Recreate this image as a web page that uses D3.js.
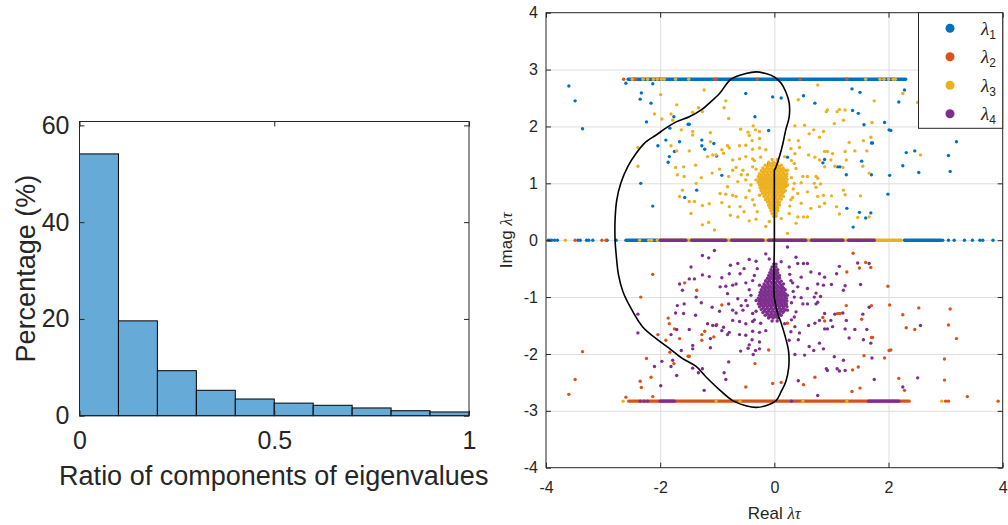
<!DOCTYPE html>
<html>
<head>
<meta charset="utf-8">
<script src="https://cdn.jsdelivr.net/npm/d3@7"></script>
<style>
  body { margin: 0; background: #fff; }
  svg { display: block; }
  text { font-family: "Liberation Sans", Arial, sans-serif; fill: #262626; }
</style>
</head>
<body>
<svg id="chart" width="1008" height="525"></svg>
<script>
// Histogram: ratio of components of eigenvalues
const binEdges = [0, 0.1, 0.2, 0.3, 0.4, 0.5, 0.6, 0.7, 0.8, 0.9, 1.0];
const binPercent = [54.1, 19.6, 9.3, 5.25, 3.45, 2.6, 2.15, 1.6, 1.03, 0.77];
const histXTicks = [0, 0.5, 1];
const histYTicks = [0, 20, 40, 60];

// Eigenvalue scatter (real, imag) for each lambda
const seriesNames = ['1', '2', '3', '4'];
const seriesColors = ['#0072bd', '#d95319', '#edb120', '#7e2f8e'];
const eigXTicks = [-4, -2, 0, 2, 4];
const eigYTicks = [-4, -3, -2, -1, 0, 1, 2, 3, 4];

const lambda1Pts = [
  [-3.60,2.71],[-3.49,2.45],[-3.36,1.96],[-2.60,2.76],[-2.33,2.59],[-2.35,2.48],[-2.13,2.75],[-2.16,2.41],
  [-2.24,2.08],[-1.76,2.17],[-1.51,2.04],[-1.49,2.04],[-1.83,1.97],[-1.90,1.76],[-1.66,1.73],[-1.75,1.56],
  [-1.84,1.47],[-1.86,1.37],[-2.04,1.66],[-2.34,1.00],[-2.13,0.60],[-1.27,1.76],[-1.27,1.66],[-1.22,1.60],
  [-1.06,1.70],[-1.01,1.48],[-0.92,1.14],[-1.36,0.88],[-1.57,0.75],[-0.50,2.58],[-0.34,2.17],[-0.10,1.93],
  [-0.03,2.52],[-0.10,1.35],[0.12,2.50],[0.51,2.54],[0.71,2.41],[1.36,2.66],[1.50,2.60],[1.37,2.28],
  [1.47,2.23],[2.18,2.43],[2.28,2.64],[1.93,2.07],[2.01,1.94],[2.04,1.93],[1.57,2.03],[1.70,1.71],
  [1.72,1.71],[0.88,1.42],[0.85,1.36],[1.11,1.29],[1.15,1.29],[1.26,1.15],[1.53,1.39],[1.70,1.15],
  [2.02,1.14],[2.25,1.31],[2.31,1.54],[2.46,1.57],[2.53,1.19],[3.05,1.49],[3.19,1.73],[3.08,1.21],
  [1.99,0.81],[1.27,0.56],[1.49,0.49],[1.60,0.39],[1.69,0.48],[1.38,0.23],[0.23,1.46],
  [-3.96,0],[-3.93,0],[-3.90,0],[-3.85,0],[-3.80,0],[-3.44,0],[-3.40,0],[-3.29,0],[-3.25,0],[-3.18,0],
  [-2.93,0],[-2.77,0],[2.95,0],[3.05,0],[3.15,0],[3.33,0],[3.47,0],[3.60,0],[3.65,0],[3.83,0]
];
// dense rows of markers: [imag, real from, real to]
const lambda1Runs = [[2.83, -2.56, 2.30], [0, -2.60, -2.05], [0, 2.28, 2.92]];

const lambda2Pts = [
  [-3.60,-2.71],[-3.49,-2.45],[-3.36,-1.96],[-2.60,-2.76],[-2.33,-2.59],[-2.35,-2.48],[-2.13,-2.75],[-2.16,-2.41],
  [-2.24,-2.08],[-1.76,-2.17],[-1.51,-2.04],[-1.49,-2.04],[-1.83,-1.97],[-1.90,-1.76],[-1.66,-1.73],[-1.75,-1.56],
  [-1.84,-1.47],[-1.86,-1.37],[-2.04,-1.66],[-2.34,-1.00],[-2.13,-0.60],[-1.27,-1.76],[-1.27,-1.66],[-1.22,-1.60],
  [-1.06,-1.70],[-1.01,-1.48],[-0.92,-1.14],[-1.36,-0.88],[-1.57,-0.75],[-0.50,-2.58],[-0.34,-2.17],[-0.10,-1.93],
  [-0.03,-2.52],[-0.10,-1.35],[0.12,-2.50],[0.51,-2.54],[0.71,-2.41],[1.36,-2.66],[1.50,-2.60],[1.37,-2.28],
  [1.47,-2.23],[2.18,-2.43],[2.28,-2.64],[1.93,-2.07],[2.01,-1.94],[2.04,-1.93],[1.57,-2.03],[1.70,-1.71],
  [1.72,-1.71],[0.88,-1.42],[0.85,-1.36],[1.11,-1.29],[1.15,-1.29],[1.26,-1.15],[1.53,-1.39],[1.70,-1.15],
  [2.02,-1.14],[2.25,-1.31],[2.31,-1.54],[2.46,-1.57],[2.53,-1.19],[3.05,-1.49],[3.19,-1.73],[3.08,-1.21],
  [1.99,-0.81],[1.27,-0.56],[1.49,-0.49],[1.60,-0.39],[1.69,-0.48],[1.38,-0.23],[0.23,-1.46],
  [3.38,-2.75],[2.98,-2.09],[2.98,-2.46],
  [-2.64,2.83],[-2.47,2.83],[-2.43,2.83],[-1.05,2.83],[-1.02,2.83],[-0.30,2.83],[0.45,2.83],[1.27,2.83],
  [-3.49,0],[-3.02,0],[-2.95,0],[3.00,-2.83],[3.05,-2.83],[3.92,-2.83]
];
const lambda2Runs = [[-2.83, -2.55, 2.36]];

const lambda3Pts = [
  [-1.99,2.56],[-1.23,2.64],[-1.71,2.38],[-1.33,2.33],[-0.85,2.45],[-0.88,2.33],[-2.10,2.22],[-1.97,2.13],
  [-1.81,2.22],[-1.78,2.11],[-1.43,2.25],[-1.26,2.26],[-0.80,2.14],[-2.39,1.63],[-2.39,1.30],[-1.63,1.94],
  [-1.43,1.91],[-1.43,1.85],[-1.12,1.89],[-0.59,1.95],[-0.46,1.90],[-0.37,2.01],[-0.33,1.94],[-0.26,1.91],
  [-0.44,1.84],[-0.39,1.75],[-0.26,1.79],[-1.81,1.66],[-1.71,1.57],[-1.49,1.57],[-1.12,1.73],[-0.92,1.59],
  [-0.82,1.66],[-0.79,1.62],[-0.61,1.66],[-0.50,1.67],[-0.38,1.60],[-0.26,1.62],[-0.15,1.59],[-1.17,1.47],
  [-1.08,1.50],[-1.02,1.50],[-0.89,1.53],[-0.73,1.41],[-0.61,1.43],[-0.50,1.47],[-0.38,1.43],[-0.24,1.46],
  [-1.73,1.28],[-1.59,1.29],[-1.38,1.32],[-0.96,1.25],[-0.73,1.23],[-0.67,1.28],[-0.55,1.23],[-0.38,1.29],
  [-1.70,1.15],[-1.58,1.12],[-1.28,1.10],[-1.09,1.18],[-0.80,1.12],[-0.58,1.15],[-0.47,1.15],[-1.66,0.77],
  [-1.61,0.88],[-1.49,0.68],[-1.40,0.68],[-1.37,1.00],[-1.26,0.61],[-1.14,0.64],[-0.95,0.82],[-0.92,0.66],
  [-0.85,0.81],[-0.79,0.59],[-0.73,0.79],[-0.67,0.77],[-0.60,0.59],[-0.50,0.75],[-0.44,0.87],[-0.38,0.71],
  [-0.26,0.79],[-0.15,0.71],[-1.46,0.47],[-1.26,0.27],[-1.15,0.31],[-1.05,0.18],[-0.77,0.44],[-0.64,0.41],
  [-0.53,0.50],[-0.44,0.34],[-0.32,0.37],[-0.15,0.24],[-0.09,0.33],[-0.50,1.06],[-0.41,0.97],[-0.32,1.06],
  [-0.82,0.94],[-0.64,1.03],[-0.32,1.25],[-0.35,0.62],[-0.30,0.50],[-0.35,1.40],
  [0.76,2.73],[0.42,2.47],[0.91,2.26],[0.93,2.29],[1.10,2.26],[1.14,2.30],[1.24,2.29],[1.21,2.11],
  [1.05,2.05],[1.75,2.45],[1.71,2.07],[2.25,2.58],[2.51,2.42],[0.36,2.01],[0.53,2.02],[0.61,1.87],
  [0.69,1.94],[0.79,1.81],[0.86,1.91],[0.26,1.76],[0.42,1.75],[0.44,1.63],[0.29,1.61],[0.18,1.47],
  [0.36,1.52],[0.60,1.50],[0.71,1.46],[0.88,1.56],[0.93,1.56],[1.02,1.52],[1.24,1.56],[1.31,1.72],
  [1.41,1.57],[1.56,1.75],[1.62,1.57],[1.69,1.81],[0.79,1.41],[0.88,1.29],[0.99,1.41],[1.06,1.30],
  [1.20,1.28],[1.26,1.41],[1.55,1.30],[1.66,1.18],[2.56,1.50],[0.23,1.23],[0.38,1.26],[0.50,1.12],
  [0.58,1.12],[0.73,1.12],[0.76,1.09],[0.35,1.00],[0.47,1.01],[0.70,1.00],[0.73,0.93],[0.81,0.99],
  [0.41,0.82],[0.58,0.85],[0.76,0.77],[0.86,0.79],[1.00,0.78],[1.21,0.88],[1.24,0.80],[1.51,0.78],
  [0.29,0.71],[0.47,0.65],[0.64,0.56],[0.79,0.59],[0.88,0.65],[1.09,0.59],[1.14,0.46],[0.26,0.47],
  [0.41,0.41],[0.51,0.41],[0.58,0.41],[0.38,0.30],[0.23,0.12],[0.12,0.38],[1.46,0.40],[1.66,0.41],
  [0.30,1.10],[0.33,0.90],[0.27,0.60],[0.32,0.75],[0.35,1.35],[0.30,1.40],
  [-2.49,2.83],[-2.30,2.83],[-2.22,2.83],[-2.12,2.83],[-2.05,2.83],[-1.98,2.83],[-1.93,2.83],[-1.73,2.83],
  [-1.50,2.83],[1.60,2.83],[1.85,2.83],[1.92,2.83],[2.00,2.83],[2.08,2.83],[2.12,2.83],
  [-3.66,0],[-2.36,0],[-2.20,0],[-2.15,0],
  [-2.65,-2.83],[-1.02,-2.83],[-0.60,-2.83],[0.50,-2.83],[1.27,-2.83],[2.93,-2.83]
];
// dense cluster of lambda3 near +i
const lambda3Core = [
  [-0.04,1.42],[0.05,1.42],
  [-0.10,1.37],[-0.02,1.37],[0.06,1.37],
  [-0.06,1.345],[0.02,1.345],
  [-0.16,1.32],[-0.09,1.32],[-0.02,1.32],[0.05,1.32],[0.12,1.32],
  [-0.12,1.295],[-0.05,1.295],[0.02,1.295],[0.09,1.295],
  [-0.20,1.27],[-0.13,1.27],[-0.06,1.27],[0.01,1.27],[0.08,1.27],[0.15,1.27],
  [-0.17,1.245],[-0.10,1.245],[-0.03,1.245],[0.04,1.245],[0.11,1.245],[0.17,1.245],
  [-0.23,1.22],[-0.16,1.22],[-0.09,1.22],[-0.02,1.22],[0.05,1.22],[0.12,1.22],[0.19,1.22],
  [-0.20,1.195],[-0.13,1.195],[-0.06,1.195],[0.01,1.195],[0.08,1.195],[0.15,1.195],
  [-0.26,1.17],[-0.19,1.17],[-0.12,1.17],[-0.05,1.17],[0.02,1.17],[0.09,1.17],[0.16,1.17],[0.22,1.17],
  [-0.23,1.145],[-0.16,1.145],[-0.09,1.145],[-0.02,1.145],[0.05,1.145],[0.12,1.145],[0.19,1.145],
  [-0.28,1.12],[-0.21,1.12],[-0.14,1.12],[-0.07,1.12],[0.00,1.12],[0.07,1.12],[0.14,1.12],[0.21,1.12],
  [-0.24,1.095],[-0.17,1.095],[-0.10,1.095],[-0.03,1.095],[0.04,1.095],[0.11,1.095],[0.18,1.095],
  [-0.27,1.07],[-0.20,1.07],[-0.13,1.07],[-0.06,1.07],[0.01,1.07],[0.08,1.07],[0.15,1.07],[0.22,1.07],
  [-0.24,1.045],[-0.17,1.045],[-0.10,1.045],[-0.03,1.045],[0.04,1.045],[0.11,1.045],[0.18,1.045],
  [-0.28,1.02],[-0.21,1.02],[-0.14,1.02],[-0.07,1.02],[0.00,1.02],[0.07,1.02],[0.14,1.02],[0.21,1.02],
  [-0.23,0.995],[-0.16,0.995],[-0.09,0.995],[-0.02,0.995],[0.05,0.995],[0.12,0.995],[0.19,0.995],
  [-0.26,0.97],[-0.19,0.97],[-0.12,0.97],[-0.05,0.97],[0.02,0.97],[0.09,0.97],[0.16,0.97],[0.23,0.97],
  [-0.22,0.945],[-0.15,0.945],[-0.08,0.945],[-0.01,0.945],[0.06,0.945],[0.13,0.945],[0.20,0.945],
  [-0.25,0.92],[-0.18,0.92],[-0.11,0.92],[-0.04,0.92],[0.03,0.92],[0.10,0.92],[0.17,0.92],
  [-0.21,0.895],[-0.14,0.895],[-0.07,0.895],[0.00,0.895],[0.07,0.895],[0.14,0.895],
  [-0.23,0.87],[-0.16,0.87],[-0.09,0.87],[-0.02,0.87],[0.05,0.87],[0.12,0.87],[0.19,0.87],
  [-0.18,0.845],[-0.11,0.845],[-0.04,0.845],[0.03,0.845],[0.10,0.845],[0.16,0.845],
  [-0.21,0.82],[-0.14,0.82],[-0.07,0.82],[0.00,0.82],[0.07,0.82],[0.14,0.82],
  [-0.16,0.795],[-0.09,0.795],[-0.02,0.795],[0.05,0.795],[0.12,0.795],
  [-0.18,0.77],[-0.11,0.77],[-0.04,0.77],[0.03,0.77],[0.10,0.77],[0.16,0.77],
  [-0.12,0.745],[-0.05,0.745],[0.02,0.745],[0.09,0.745],
  [-0.15,0.72],[-0.08,0.72],[-0.01,0.72],[0.06,0.72],[0.12,0.72],
  [-0.09,0.695],[-0.02,0.695],[0.05,0.695],
  [-0.12,0.67],[-0.05,0.67],[0.02,0.67],[0.09,0.67],
  [-0.07,0.645],[0.00,0.645],[0.06,0.645],
  [-0.10,0.62],[-0.03,0.62],[0.04,0.62],[0.09,0.62],
  [-0.05,0.595],[0.02,0.595],
  [-0.08,0.57],[-0.01,0.57],[0.06,0.57],
  [-0.03,0.545],[0.03,0.545],
  [-0.06,0.52],[0.01,0.52],[0.06,0.52],
  [-0.04,0.47],[0.03,0.47],
  [-0.01,0.42],[0.03,0.42]
];
const lambda3Runs = [[0, -2.05, 2.22]];

const lambda4Pts = [
  [-1.99,-2.56],[-1.23,-2.64],[-1.71,-2.38],[-1.33,-2.33],[-0.85,-2.45],[-0.88,-2.33],[-2.10,-2.22],[-1.97,-2.13],
  [-1.81,-2.22],[-1.78,-2.11],[-1.43,-2.25],[-1.26,-2.26],[-0.80,-2.14],[-2.39,-1.63],[-2.39,-1.30],[-1.63,-1.94],
  [-1.43,-1.91],[-1.43,-1.85],[-1.12,-1.89],[-0.59,-1.95],[-0.46,-1.90],[-0.37,-2.01],[-0.33,-1.94],[-0.26,-1.91],
  [-0.44,-1.84],[-0.39,-1.75],[-0.26,-1.79],[-1.81,-1.66],[-1.71,-1.57],[-1.49,-1.57],[-1.12,-1.73],[-0.92,-1.59],
  [-0.82,-1.66],[-0.79,-1.62],[-0.61,-1.66],[-0.50,-1.67],[-0.38,-1.60],[-0.26,-1.62],[-0.15,-1.59],[-1.17,-1.47],
  [-1.08,-1.50],[-1.02,-1.50],[-0.89,-1.53],[-0.73,-1.41],[-0.61,-1.43],[-0.50,-1.47],[-0.38,-1.43],[-0.24,-1.46],
  [-1.73,-1.28],[-1.59,-1.29],[-1.38,-1.32],[-0.96,-1.25],[-0.73,-1.23],[-0.67,-1.28],[-0.55,-1.23],[-0.38,-1.29],
  [-1.70,-1.15],[-1.58,-1.12],[-1.28,-1.10],[-1.09,-1.18],[-0.80,-1.12],[-0.58,-1.15],[-0.47,-1.15],[-1.66,-0.77],
  [-1.61,-0.88],[-1.49,-0.68],[-1.40,-0.68],[-1.37,-1.00],[-1.26,-0.61],[-1.14,-0.64],[-0.95,-0.82],[-0.92,-0.66],
  [-0.85,-0.81],[-0.79,-0.59],[-0.73,-0.79],[-0.67,-0.77],[-0.60,-0.59],[-0.50,-0.75],[-0.44,-0.87],[-0.38,-0.71],
  [-0.26,-0.79],[-0.15,-0.71],[-1.46,-0.47],[-1.26,-0.27],[-1.15,-0.31],[-1.05,-0.18],[-0.77,-0.44],[-0.64,-0.41],
  [-0.53,-0.50],[-0.44,-0.34],[-0.32,-0.37],[-0.15,-0.24],[-0.09,-0.33],[-0.50,-1.06],[-0.41,-0.97],[-0.32,-1.06],
  [-0.82,-0.94],[-0.64,-1.03],[-0.32,-1.25],[-0.35,-0.62],[-0.30,-0.50],[-0.35,-1.40],
  [0.76,-2.73],[0.42,-2.47],[0.91,-2.26],[0.93,-2.29],[1.10,-2.26],[1.14,-2.30],[1.24,-2.29],[1.21,-2.11],
  [1.05,-2.05],[1.75,-2.45],[1.71,-2.07],[2.25,-2.58],[2.51,-2.42],[0.36,-2.01],[0.53,-2.02],[0.61,-1.87],
  [0.69,-1.94],[0.79,-1.81],[0.86,-1.91],[0.26,-1.76],[0.42,-1.75],[0.44,-1.63],[0.29,-1.61],[0.18,-1.47],
  [0.36,-1.52],[0.60,-1.50],[0.71,-1.46],[0.88,-1.56],[0.93,-1.56],[1.02,-1.52],[1.24,-1.56],[1.31,-1.72],
  [1.41,-1.57],[1.56,-1.75],[1.62,-1.57],[1.69,-1.81],[0.79,-1.41],[0.88,-1.29],[0.99,-1.41],[1.06,-1.30],
  [1.20,-1.28],[1.26,-1.41],[1.55,-1.30],[1.66,-1.18],[2.56,-1.50],[0.23,-1.23],[0.38,-1.26],[0.50,-1.12],
  [0.58,-1.12],[0.73,-1.12],[0.76,-1.09],[0.35,-1.00],[0.47,-1.01],[0.70,-1.00],[0.73,-0.93],[0.81,-0.99],
  [0.41,-0.82],[0.58,-0.85],[0.76,-0.77],[0.86,-0.79],[1.00,-0.78],[1.21,-0.88],[1.24,-0.80],[1.51,-0.78],
  [0.29,-0.71],[0.47,-0.65],[0.64,-0.56],[0.79,-0.59],[0.88,-0.65],[1.09,-0.59],[1.14,-0.46],[0.26,-0.47],
  [0.41,-0.41],[0.51,-0.41],[0.58,-0.41],[0.38,-0.30],[0.23,-0.12],[0.12,-0.38],[1.46,-0.40],[1.66,-0.41],
  [0.30,-1.10],[0.33,-0.90],[0.27,-0.60],[0.32,-0.75],[0.35,-1.35],[0.30,-1.40],
  [-2.35,-2.83],[-2.28,-2.83],[-2.22,-2.83],[0.30,-2.83]
];
// dense cluster of lambda4 near -i
const lambda4Core = [
  [-0.04,-1.42],[0.05,-1.42],
  [-0.10,-1.37],[-0.02,-1.37],[0.06,-1.37],
  [-0.06,-1.345],[0.02,-1.345],
  [-0.16,-1.32],[-0.09,-1.32],[-0.02,-1.32],[0.05,-1.32],[0.12,-1.32],
  [-0.12,-1.295],[-0.05,-1.295],[0.02,-1.295],[0.09,-1.295],
  [-0.20,-1.27],[-0.13,-1.27],[-0.06,-1.27],[0.01,-1.27],[0.08,-1.27],[0.15,-1.27],
  [-0.17,-1.245],[-0.10,-1.245],[-0.03,-1.245],[0.04,-1.245],[0.11,-1.245],[0.17,-1.245],
  [-0.23,-1.22],[-0.16,-1.22],[-0.09,-1.22],[-0.02,-1.22],[0.05,-1.22],[0.12,-1.22],[0.19,-1.22],
  [-0.20,-1.195],[-0.13,-1.195],[-0.06,-1.195],[0.01,-1.195],[0.08,-1.195],[0.15,-1.195],
  [-0.26,-1.17],[-0.19,-1.17],[-0.12,-1.17],[-0.05,-1.17],[0.02,-1.17],[0.09,-1.17],[0.16,-1.17],[0.22,-1.17],
  [-0.23,-1.145],[-0.16,-1.145],[-0.09,-1.145],[-0.02,-1.145],[0.05,-1.145],[0.12,-1.145],[0.19,-1.145],
  [-0.28,-1.12],[-0.21,-1.12],[-0.14,-1.12],[-0.07,-1.12],[0.00,-1.12],[0.07,-1.12],[0.14,-1.12],[0.21,-1.12],
  [-0.24,-1.095],[-0.17,-1.095],[-0.10,-1.095],[-0.03,-1.095],[0.04,-1.095],[0.11,-1.095],[0.18,-1.095],
  [-0.27,-1.07],[-0.20,-1.07],[-0.13,-1.07],[-0.06,-1.07],[0.01,-1.07],[0.08,-1.07],[0.15,-1.07],[0.22,-1.07],
  [-0.24,-1.045],[-0.17,-1.045],[-0.10,-1.045],[-0.03,-1.045],[0.04,-1.045],[0.11,-1.045],[0.18,-1.045],
  [-0.28,-1.02],[-0.21,-1.02],[-0.14,-1.02],[-0.07,-1.02],[0.00,-1.02],[0.07,-1.02],[0.14,-1.02],[0.21,-1.02],
  [-0.23,-0.995],[-0.16,-0.995],[-0.09,-0.995],[-0.02,-0.995],[0.05,-0.995],[0.12,-0.995],[0.19,-0.995],
  [-0.26,-0.97],[-0.19,-0.97],[-0.12,-0.97],[-0.05,-0.97],[0.02,-0.97],[0.09,-0.97],[0.16,-0.97],[0.23,-0.97],
  [-0.22,-0.945],[-0.15,-0.945],[-0.08,-0.945],[-0.01,-0.945],[0.06,-0.945],[0.13,-0.945],[0.20,-0.945],
  [-0.25,-0.92],[-0.18,-0.92],[-0.11,-0.92],[-0.04,-0.92],[0.03,-0.92],[0.10,-0.92],[0.17,-0.92],
  [-0.21,-0.895],[-0.14,-0.895],[-0.07,-0.895],[0.00,-0.895],[0.07,-0.895],[0.14,-0.895],
  [-0.23,-0.87],[-0.16,-0.87],[-0.09,-0.87],[-0.02,-0.87],[0.05,-0.87],[0.12,-0.87],[0.19,-0.87],
  [-0.18,-0.845],[-0.11,-0.845],[-0.04,-0.845],[0.03,-0.845],[0.10,-0.845],[0.16,-0.845],
  [-0.21,-0.82],[-0.14,-0.82],[-0.07,-0.82],[0.00,-0.82],[0.07,-0.82],[0.14,-0.82],
  [-0.16,-0.795],[-0.09,-0.795],[-0.02,-0.795],[0.05,-0.795],[0.12,-0.795],
  [-0.18,-0.77],[-0.11,-0.77],[-0.04,-0.77],[0.03,-0.77],[0.10,-0.77],[0.16,-0.77],
  [-0.12,-0.745],[-0.05,-0.745],[0.02,-0.745],[0.09,-0.745],
  [-0.15,-0.72],[-0.08,-0.72],[-0.01,-0.72],[0.06,-0.72],[0.12,-0.72],
  [-0.09,-0.695],[-0.02,-0.695],[0.05,-0.695],
  [-0.12,-0.67],[-0.05,-0.67],[0.02,-0.67],[0.09,-0.67],
  [-0.07,-0.645],[0.00,-0.645],[0.06,-0.645],
  [-0.10,-0.62],[-0.03,-0.62],[0.04,-0.62],[0.09,-0.62],
  [-0.05,-0.595],[0.02,-0.595],
  [-0.08,-0.57],[-0.01,-0.57],[0.06,-0.57],
  [-0.03,-0.545],[0.03,-0.545],
  [-0.06,-0.52],[0.01,-0.52],[0.06,-0.52],
  [-0.04,-0.47],[0.03,-0.47],
  [-0.01,-0.42],[0.03,-0.42]
];
const lambda4Runs = [
  [0, -2.0, -1.55], [0, -1.45, -0.85], [0, -0.75, -0.2], [0, -0.1, 0.55], [0, 0.65, 1.2], [0, 1.3, 1.75],
  [-2.83, -2.0, -1.75], [-2.83, 1.65, 2.18]
];

// closed boundary curve
const boundary = [
  [0,1.23],[0.03,1.29],[0.09,1.47],[0.15,1.70],[0.20,1.94],[0.26,2.17],[0.26,2.41],[0.20,2.61],[0.12,2.76],
  [0.0,2.87],[-0.15,2.93],[-0.32,2.96],[-0.50,2.93],[-0.76,2.83],[-0.96,2.58],[-1.14,2.41],[-1.28,2.29],
  [-1.49,2.17],[-1.72,2.08],[-1.90,1.97],[-2.07,1.85],[-2.25,1.73],[-2.42,1.53],[-2.57,1.29],[-2.69,1.00],
  [-2.76,0.71],[-2.79,0.36],[-2.79,0.0],[-2.77,-0.26],[-2.73,-0.61],[-2.65,-0.91],[-2.51,-1.20],[-2.31,-1.52],
  [-2.07,-1.73],[-1.84,-1.90],[-1.61,-2.08],[-1.37,-2.22],[-1.20,-2.40],[-0.96,-2.63],[-0.73,-2.82],
  [-0.50,-2.91],[-0.32,-2.94],[-0.15,-2.91],[0.03,-2.82],[0.12,-2.66],[0.20,-2.49],[0.25,-2.25],[0.25,-1.96],
  [0.20,-1.73],[0.12,-1.46],[0.05,-1.26],[0.0,-1.0],[0,0],[0,1.0],[0,1.23]
];

const svg = d3.select('#chart');
const ink = '#262626';

// ---------- left: histogram ----------
const H = { left: 79.5, right: 469, top: 121.5, bottom: 415.7 };
const xH = d3.scaleLinear().domain([0, 1]).range([H.left, H.right]);
const yH = d3.scaleLinear().domain([0, 60.8]).range([H.bottom, H.top]);

const hist = svg.append('g');
hist.selectAll('.bar')
  .data(binPercent)
  .enter()
  .append('rect')
  .attr('class', 'bar')
  .attr('x', (d, i) => xH(binEdges[i]))
  .attr('y', d => yH(d))
  .attr('width', (d, i) => xH(binEdges[i + 1]) - xH(binEdges[i]))
  .attr('height', d => yH(0) - yH(d))
  .attr('fill', '#66aad7')
  .attr('stroke', '#000')
  .attr('stroke-width', 1);

function styleAxis(g, fontSize) {
  g.select('.domain').remove();
  g.selectAll('line').attr('stroke', ink);
  g.selectAll('text').attr('fill', ink).style('font-size', fontSize + 'px')
    .attr('font-family', '"Liberation Sans", Arial, sans-serif');
}

hist.append('g')
  .attr('transform', `translate(0,${H.bottom})`)
  .call(d3.axisBottom(xH).tickValues(histXTicks).tickFormat(d => String(d)).tickSizeInner(-5).tickSizeOuter(0).tickPadding(16))
  .call(g => styleAxis(g, 25));
hist.append('g')
  .attr('transform', `translate(0,${H.top})`)
  .call(d3.axisTop(xH).tickValues(histXTicks).tickFormat('').tickSizeInner(-5).tickSizeOuter(0))
  .call(g => styleAxis(g, 25));
hist.append('g')
  .attr('transform', `translate(${H.left},0)`)
  .call(d3.axisLeft(yH).tickValues(histYTicks).tickFormat(d => String(d)).tickSizeInner(-5).tickSizeOuter(0).tickPadding(10))
  .call(g => styleAxis(g, 25));
hist.append('g')
  .attr('transform', `translate(${H.right},0)`)
  .call(d3.axisRight(yH).tickValues(histYTicks).tickFormat('').tickSizeInner(-5).tickSizeOuter(0))
  .call(g => styleAxis(g, 25));

hist.append('rect')
  .attr('x', H.left).attr('y', H.top)
  .attr('width', H.right - H.left).attr('height', H.bottom - H.top)
  .attr('fill', 'none').attr('stroke', ink).attr('stroke-width', 1);

hist.append('text')
  .attr('x', (H.left + H.right) / 2 - 0.5)
  .attr('y', 485)
  .attr('text-anchor', 'middle')
  .style('font-size', '27px')
  .text('Ratio of components of eigenvalues');

hist.append('text')
  .attr('transform', `translate(35,${(H.top + H.bottom) / 2}) rotate(-90)`)
  .attr('text-anchor', 'middle')
  .style('font-size', '27px')
  .text('Percentage (%)');

// ---------- right: eigenvalue scatter ----------
const E = { left: 546, right: 1002.7, top: 12.7, bottom: 467.7 };
const xE = d3.scaleLinear().domain([-4, 4]).range([E.left, E.right]);
const yE = d3.scaleLinear().domain([-4, 4]).range([E.bottom, E.top]);

const eig = svg.append('g');
eig.append('defs').append('clipPath').attr('id', 'eigClip')
  .append('rect').attr('x', E.left).attr('y', E.top)
  .attr('width', E.right - E.left).attr('height', E.bottom - E.top);

// grid
eig.append('g')
  .attr('transform', `translate(${E.left},0)`)
  .call(d3.axisLeft(yE).tickValues(eigYTicks.slice(1, -1)).tickFormat('').tickSizeInner(-(E.right - E.left)).tickSizeOuter(0))
  .call(g => { g.select('.domain').remove(); g.selectAll('line').attr('stroke', '#dedede').attr('stroke-width', 1); });
eig.append('g')
  .attr('transform', `translate(0,${E.bottom})`)
  .call(d3.axisBottom(xE).tickValues(eigXTicks.slice(1, -1)).tickFormat('').tickSizeInner(-(E.bottom - E.top)).tickSizeOuter(0))
  .call(g => { g.select('.domain').remove(); g.selectAll('line').attr('stroke', '#dedede').attr('stroke-width', 1); });

const plotArea = eig.append('g').attr('clip-path', 'url(#eigClip)');
const seriesPts = [lambda1Pts, lambda2Pts, lambda3Pts.concat(lambda3Core), lambda4Pts.concat(lambda4Core)];
const seriesRuns = [lambda1Runs, lambda2Runs, lambda3Runs, lambda4Runs];
const dotR = 1.7;

seriesPts.forEach((pts, s) => {
  const layer = plotArea.append('g').attr('class', 'lambda' + seriesNames[s]);
  layer.selectAll('line')
    .data(seriesRuns[s])
    .enter()
    .append('line')
    .attr('x1', d => xE(d[1])).attr('x2', d => xE(d[2]))
    .attr('y1', d => yE(d[0])).attr('y2', d => yE(d[0]))
    .attr('stroke', seriesColors[s])
    .attr('stroke-width', dotR * 2)
    .attr('stroke-linecap', 'round');
  layer.selectAll('circle')
    .data(pts)
    .enter()
    .append('circle')
    .attr('cx', d => xE(d[0]))
    .attr('cy', d => yE(d[1]))
    .attr('r', dotR)
    .attr('fill', seriesColors[s]);
});

plotArea.append('path')
  .datum(boundary)
  .attr('d', d3.line().x(d => xE(d[0])).y(d => yE(d[1])).curve(d3.curveCatmullRom))
  .attr('fill', 'none')
  .attr('stroke', '#000')
  .attr('stroke-width', 1.6);

// axes
eig.append('g')
  .attr('transform', `translate(0,${E.bottom})`)
  .call(d3.axisBottom(xE).tickValues(eigXTicks).tickFormat(d => String(d)).tickSizeInner(-5).tickSizeOuter(0).tickPadding(14))
  .call(g => styleAxis(g, 16));
eig.append('g')
  .attr('transform', `translate(0,${E.top})`)
  .call(d3.axisTop(xE).tickValues(eigXTicks).tickFormat('').tickSizeInner(-5).tickSizeOuter(0))
  .call(g => styleAxis(g, 16));
eig.append('g')
  .attr('transform', `translate(${E.left},0)`)
  .call(d3.axisLeft(yE).tickValues(eigYTicks).tickFormat(d => String(d)).tickSizeInner(-5).tickSizeOuter(0).tickPadding(8))
  .call(g => styleAxis(g, 16));
eig.append('g')
  .attr('transform', `translate(${E.right},0)`)
  .call(d3.axisRight(yE).tickValues(eigYTicks).tickFormat('').tickSizeInner(-5).tickSizeOuter(0))
  .call(g => styleAxis(g, 16));

eig.append('rect')
  .attr('x', E.left).attr('y', E.top)
  .attr('width', E.right - E.left).attr('height', E.bottom - E.top)
  .attr('fill', 'none').attr('stroke', ink).attr('stroke-width', 1);

const xLab = eig.append('text')
  .attr('x', (E.left + E.right) / 2)
  .attr('y', 519)
  .attr('text-anchor', 'middle')
  .style('font-size', '17px');
xLab.append('tspan').text('Real ');
xLab.append('tspan').attr('font-family', '"Liberation Serif", serif').attr('font-style', 'italic').text('λτ');

const yLab = eig.append('text')
  .attr('transform', `translate(512,${(E.top + E.bottom) / 2}) rotate(-90)`)
  .attr('text-anchor', 'middle')
  .style('font-size', '17px');
yLab.append('tspan').text('Imag ');
yLab.append('tspan').attr('font-family', '"Liberation Serif", serif').attr('font-style', 'italic').text('λτ');

// legend
const legend = eig.append('g');
legend.append('rect')
  .attr('x', 918.5).attr('y', E.top)
  .attr('width', E.right - 918.5).attr('height', 115.6)
  .attr('fill', '#fff').attr('stroke', ink).attr('stroke-width', 1);
const rows = legend.selectAll('.entry')
  .data(seriesNames)
  .enter()
  .append('g')
  .attr('class', 'entry')
  .attr('transform', (d, i) => `translate(0,${28.3 + i * 28.5})`);
rows.append('circle')
  .attr('cx', 950).attr('cy', 0).attr('r', 4.5)
  .attr('fill', (d, i) => seriesColors[i]);
const lt = rows.append('text')
  .attr('x', 981).attr('y', 6.5)
  .style('font-size', '19px');
lt.append('tspan').attr('font-family', '"Liberation Serif", serif').attr('font-style', 'italic').text('λ');
lt.append('tspan').attr('dy', 4).style('font-size', '12px').text(d => d);
</script>
</body>
</html>
